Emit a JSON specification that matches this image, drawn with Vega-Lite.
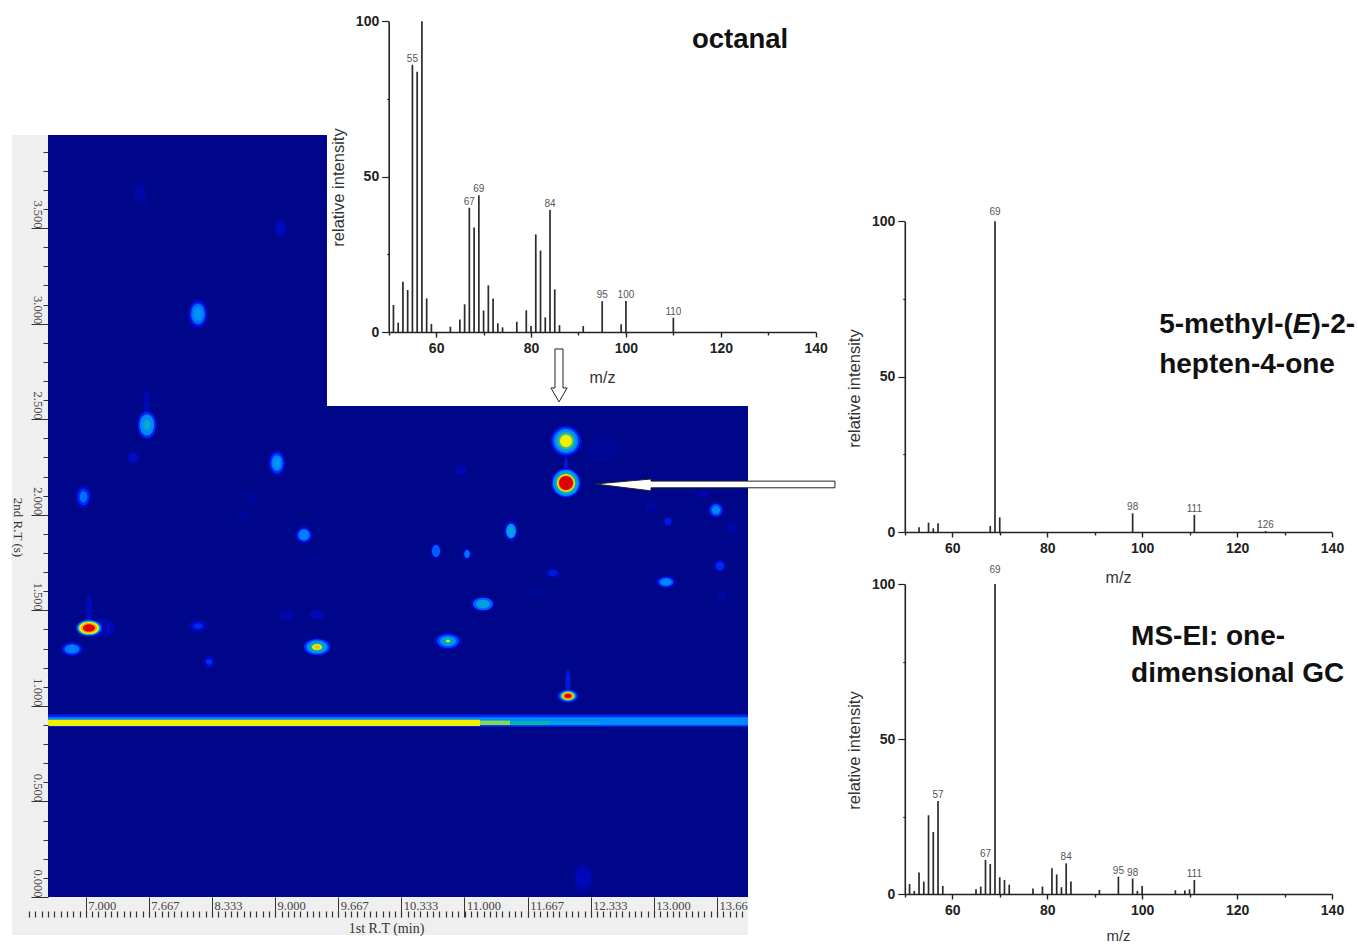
{"$schema":"https://vega.github.io/schema/vega-lite/v6.json","width":1358,"height":944,"autosize":{"type":"none"},"padding":0,"background":"white","config":{"view":{"stroke":null}},
"datasets":{
"panel":[{"rt1":6.222,"rt1e":6.602,"rt2":-0.199,"rt2e":3.987},{"rt1":6.222,"rt1e":13.994,"rt2":-0.199,"rt2e":0}],
"field":[{"rt1":6.602,"rt1e":9.548,"rt2":2.569,"rt2e":3.987,"level":0},{"rt1":6.602,"rt1e":13.994,"rt2":0,"rt2e":2.569,"level":0},
{"rt1":6.602,"rt1e":13.994,"rt2":0.891,"rt2e":0.955,"level":0.26},{"rt1":6.602,"rt1e":13.994,"rt2":0.898,"rt2e":0.940,"level":0.42},{"rt1":6.602,"rt1e":11.164,"rt2":0.895,"rt2e":0.927,"level":0.78},{"rt1":11.164,"rt1e":11.481,"rt2":0.900,"rt2e":0.923,"level":0.72},{"rt1":11.481,"rt1e":11.903,"rt2":0.900,"rt2e":0.921,"level":0.6},{"rt1":11.903,"rt1e":12.431,"rt2":0.902,"rt2e":0.920,"level":0.5}],
"spots":[
{"rt1":7.573,"rt2":3.684,"level":0.05,"form":"tall","area":100},{"rt1":7.573,"rt2":3.684,"level":0.08,"form":"tall","area":36},
{"rt1":9.062,"rt2":3.496,"level":0.07,"form":"tall","area":90},{"rt1":9.062,"rt2":3.496,"level":0.14,"form":"tall","area":36},
{"rt1":8.186,"rt2":3.05,"level":0.12,"form":"tall","area":225},{"rt1":8.186,"rt2":3.05,"level":0.25,"form":"tall","area":144},{"rt1":8.186,"rt2":3.05,"level":0.38,"form":"tall","area":100},{"rt1":8.186,"rt2":3.05,"level":0.44,"form":"tall","area":49},
{"rt1":7.647,"rt2":2.574,"level":0.1,"form":"streak","area":225},
{"rt1":7.647,"rt2":2.47,"level":0.12,"form":"tall","area":210},{"rt1":7.647,"rt2":2.47,"level":0.28,"form":"tall","area":169},{"rt1":7.647,"rt2":2.47,"level":0.42,"form":"tall","area":110},{"rt1":7.647,"rt2":2.47,"level":0.5,"form":"tall","area":36},{"rt1":7.647,"rt2":2.47,"level":0.55,"form":"tall","area":16},
{"rt1":7.5,"rt2":2.298,"level":0.08,"form":"round","area":40},{"rt1":7.5,"rt2":2.298,"level":0.16,"form":"round","area":16},
{"rt1":9.02,"rt2":2.271,"level":0.12,"form":"tall","area":160},{"rt1":9.02,"rt2":2.271,"level":0.28,"form":"tall","area":110},{"rt1":9.02,"rt2":2.271,"level":0.4,"form":"tall","area":64},{"rt1":9.02,"rt2":2.271,"level":0.45,"form":"tall","area":30},
{"rt1":6.977,"rt2":2.093,"level":0.12,"form":"tall","area":140},{"rt1":6.977,"rt2":2.093,"level":0.28,"form":"tall","area":70},{"rt1":6.977,"rt2":2.093,"level":0.38,"form":"tall","area":30},
{"rt1":9.305,"rt2":1.894,"level":0.12,"form":"round","area":80},{"rt1":9.305,"rt2":1.894,"level":0.28,"form":"round","area":45},{"rt1":9.305,"rt2":1.894,"level":0.4,"form":"round","area":30},
{"rt1":8.756,"rt2":2.088,"level":0.04,"form":"round","area":36},{"rt1":8.651,"rt2":1.999,"level":0.03,"form":"round","area":36},{"rt1":9.421,"rt2":1.774,"level":0.03,"form":"round","area":20},
{"rt1":7.035,"rt2":1.501,"level":0.11,"form":"streak","area":256},{"rt1":7.151,"rt2":1.408,"level":0.1,"form":"wide","area":220},
{"rt1":7.035,"rt2":1.408,"level":0.3,"form":"wide","area":169},{"rt1":7.035,"rt2":1.408,"level":0.42,"form":"wide","area":140},{"rt1":7.035,"rt2":1.408,"level":0.6,"form":"wide","area":121},{"rt1":7.035,"rt2":1.408,"level":0.78,"form":"wide","area":100},{"rt1":7.035,"rt2":1.408,"level":0.88,"form":"wide","area":64},{"rt1":7.035,"rt2":1.408,"level":1,"form":"wide","area":36},
{"rt1":6.855,"rt2":1.297,"level":0.13,"form":"wide","area":144},{"rt1":6.855,"rt2":1.297,"level":0.3,"form":"wide","area":81},{"rt1":6.855,"rt2":1.297,"level":0.4,"form":"wide","area":50},
{"rt1":8.186,"rt2":1.418,"level":0.08,"form":"wide","area":100},{"rt1":8.186,"rt2":1.418,"level":0.18,"form":"wide","area":36},{"rt1":8.186,"rt2":1.418,"level":0.26,"form":"wide","area":16},
{"rt1":8.302,"rt2":1.23,"level":0.12,"form":"round","area":36},{"rt1":8.302,"rt2":1.23,"level":0.28,"form":"round","area":9},
{"rt1":9.443,"rt2":1.308,"level":0.15,"form":"wide","area":196},{"rt1":9.443,"rt2":1.308,"level":0.3,"form":"wide","area":169},{"rt1":9.443,"rt2":1.308,"level":0.45,"form":"wide","area":110},{"rt1":9.443,"rt2":1.308,"level":0.6,"form":"wide","area":50},{"rt1":9.443,"rt2":1.308,"level":0.78,"form":"wide","area":25},{"rt1":9.443,"rt2":1.308,"level":0.85,"form":"wide","area":9},
{"rt1":9.126,"rt2":1.475,"level":0.09,"form":"wide","area":64},{"rt1":9.443,"rt2":1.475,"level":0.12,"form":"wide","area":49},
{"rt1":12.45,"rt2":2.346,"level":0.03,"form":"wide","area":300},
{"rt1":12.072,"rt2":2.386,"level":0.12,"form":"round","area":256},{"rt1":12.072,"rt2":2.386,"level":0.3,"form":"round","area":196},{"rt1":12.072,"rt2":2.386,"level":0.42,"form":"round","area":144},{"rt1":12.072,"rt2":2.386,"level":0.55,"form":"round","area":90},{"rt1":12.072,"rt2":2.386,"level":0.68,"form":"round","area":60},{"rt1":12.072,"rt2":2.386,"level":0.78,"form":"round","area":36},
{"rt1":12.072,"rt2":2.261,"level":0.2,"form":"streak","area":64},
{"rt1":12.072,"rt2":2.166,"level":0.15,"form":"round","area":225},{"rt1":12.072,"rt2":2.166,"level":0.3,"form":"round","area":196},{"rt1":12.072,"rt2":2.166,"level":0.42,"form":"round","area":169},{"rt1":12.072,"rt2":2.166,"level":0.6,"form":"round","area":121},{"rt1":12.072,"rt2":2.166,"level":0.78,"form":"round","area":81},{"rt1":12.072,"rt2":2.166,"level":0.88,"form":"round","area":64},{"rt1":12.072,"rt2":2.166,"level":1,"form":"round","area":49},
{"rt1":11.491,"rt2":1.915,"level":0.12,"form":"tall","area":110},{"rt1":11.491,"rt2":1.915,"level":0.3,"form":"tall","area":64},{"rt1":11.491,"rt2":1.915,"level":0.45,"form":"tall","area":49},{"rt1":11.491,"rt2":1.915,"level":0.5,"form":"tall","area":25},
{"rt1":10.699,"rt2":1.811,"level":0.15,"form":"tall","area":60},{"rt1":10.699,"rt2":1.811,"level":0.35,"form":"tall","area":36},
{"rt1":11.027,"rt2":1.795,"level":0.15,"form":"tall","area":40},{"rt1":11.027,"rt2":1.795,"level":0.38,"form":"tall","area":16},
{"rt1":11.195,"rt2":1.533,"level":0.14,"form":"wide","area":144},{"rt1":11.195,"rt2":1.533,"level":0.35,"form":"wide","area":100},{"rt1":11.195,"rt2":1.533,"level":0.5,"form":"wide","area":50},
{"rt1":10.826,"rt2":1.339,"level":0.15,"form":"wide","area":196},{"rt1":10.826,"rt2":1.339,"level":0.32,"form":"wide","area":121},{"rt1":10.826,"rt2":1.339,"level":0.48,"form":"wide","area":64},{"rt1":10.826,"rt2":1.339,"level":0.62,"form":"wide","area":16},{"rt1":10.826,"rt2":1.339,"level":0.76,"form":"wide","area":4},
{"rt1":11.935,"rt2":1.695,"level":0.09,"form":"wide","area":60},{"rt1":11.935,"rt2":1.695,"level":0.2,"form":"wide","area":25},
{"rt1":13.128,"rt2":1.648,"level":0.14,"form":"wide","area":100},{"rt1":13.128,"rt2":1.648,"level":0.33,"form":"wide","area":56},{"rt1":13.128,"rt2":1.648,"level":0.42,"form":"wide","area":30},
{"rt1":13.656,"rt2":2.025,"level":0.13,"form":"round","area":64},{"rt1":13.656,"rt2":2.025,"level":0.32,"form":"round","area":36},{"rt1":13.656,"rt2":2.025,"level":0.42,"form":"round","area":16},
{"rt1":13.149,"rt2":1.963,"level":0.12,"form":"round","area":25},{"rt1":13.149,"rt2":1.963,"level":0.2,"form":"round","area":12},
{"rt1":13.698,"rt2":1.732,"level":0.13,"form":"round","area":36},{"rt1":13.698,"rt2":1.732,"level":0.26,"form":"round","area":16},
{"rt1":13.519,"rt2":2.109,"level":0.09,"form":"wide","area":36},{"rt1":10.963,"rt2":2.234,"level":0.09,"form":"round","area":30},{"rt1":12.97,"rt2":2.041,"level":0.06,"form":"round","area":25},{"rt1":13.825,"rt2":1.931,"level":0.06,"form":"round","area":30},{"rt1":11.766,"rt2":1.596,"level":0.05,"form":"wide","area":25},{"rt1":13.719,"rt2":1.575,"level":0.05,"form":"round","area":25},
{"rt1":12.093,"rt2":1.125,"level":0.2,"form":"streak","area":144},
{"rt1":12.093,"rt2":1.052,"level":0.3,"form":"wide","area":100},{"rt1":12.093,"rt2":1.052,"level":0.42,"form":"wide","area":64},{"rt1":12.093,"rt2":1.052,"level":0.68,"form":"wide","area":50},{"rt1":12.093,"rt2":1.052,"level":0.8,"form":"wide","area":36},{"rt1":12.093,"rt2":1.052,"level":0.9,"form":"wide","area":25},{"rt1":12.093,"rt2":1.052,"level":1,"form":"wide","area":12},
{"rt1":12.251,"rt2":0.099,"level":0.05,"form":"tall","area":220},{"rt1":12.251,"rt2":0.099,"level":0.12,"form":"tall","area":100}],
"arrowH":[{"rt1":12.378,"rt2":2.161,"rt2e":2.161},{"rt1":12.97,"rt2":2.125,"rt2e":2.187},{"rt1":12.97,"rt2":2.141,"rt2e":2.176},{"rt1":14.912,"rt2":2.141,"rt2e":2.176}],
"arrowV":[{"mz":85.05,"mz2":86.74,"intensity":-5.47},{"mz":85.05,"mz2":86.74,"intensity":-18},{"mz":84.2,"mz2":87.6,"intensity":-18},{"mz":85.9,"mz2":85.9,"intensity":-22.5}],
"octanal":[{"mz":51,"intensity":8.7},{"mz":52,"intensity":3},{"mz":53,"intensity":16.2},{"mz":54,"intensity":13.5},{"mz":55,"intensity":86,"label":"55"},{"mz":56,"intensity":83.8},{"mz":57,"intensity":100},{"mz":58,"intensity":10.8},{"mz":59,"intensity":2.6},{"mz":63,"intensity":1.7},{"mz":65,"intensity":4},{"mz":66,"intensity":8.9},{"mz":67,"intensity":40,"label":"67"},{"mz":68,"intensity":33.6},{"mz":69,"intensity":44,"label":"69"},{"mz":70,"intensity":6.9},{"mz":71,"intensity":15},{"mz":72,"intensity":10.8},{"mz":73,"intensity":2.8},{"mz":74,"intensity":1.5},{"mz":77,"intensity":3.3},{"mz":79,"intensity":7},{"mz":80,"intensity":1.9},{"mz":81,"intensity":31.4},{"mz":82,"intensity":26.2},{"mz":83,"intensity":4.7},{"mz":84,"intensity":39.3,"label":"84"},{"mz":85,"intensity":13.7},{"mz":86,"intensity":2.2},{"mz":91,"intensity":1.9},{"mz":95,"intensity":9.9,"label":"95"},{"mz":99,"intensity":2.5},{"mz":100,"intensity":10,"label":"100"},{"mz":110,"intensity":4.6,"label":"110"}],
"heptenone":[{"mz":53,"intensity":1.5},{"mz":55,"intensity":3},{"mz":56,"intensity":1.2},{"mz":57,"intensity":2.8},{"mz":68,"intensity":1.9},{"mz":69,"intensity":100,"label":"69"},{"mz":70,"intensity":4.7},{"mz":98,"intensity":6,"label":"98"},{"mz":111,"intensity":5.5,"label":"111"},{"mz":126,"intensity":0.3,"label":"126"}],
"ei":[{"mz":51,"intensity":3.2},{"mz":52,"intensity":1},{"mz":53,"intensity":6.9},{"mz":54,"intensity":4},{"mz":55,"intensity":25.4},{"mz":56,"intensity":20},{"mz":57,"intensity":30,"label":"57"},{"mz":58,"intensity":2.6},{"mz":65,"intensity":1.5},{"mz":66,"intensity":2.4},{"mz":67,"intensity":11,"label":"67"},{"mz":68,"intensity":9.7},{"mz":69,"intensity":100,"label":"69"},{"mz":70,"intensity":5.4},{"mz":71,"intensity":4.5},{"mz":72,"intensity":3},{"mz":77,"intensity":1.8},{"mz":79,"intensity":2.4},{"mz":81,"intensity":8.3},{"mz":82,"intensity":6.3},{"mz":83,"intensity":2.2},{"mz":84,"intensity":9.9,"label":"84"},{"mz":85,"intensity":4},{"mz":91,"intensity":1.3},{"mz":95,"intensity":5.6,"label":"95"},{"mz":98,"intensity":5,"label":"98"},{"mz":99,"intensity":1},{"mz":100,"intensity":2.6},{"mz":107,"intensity":1.2},{"mz":109,"intensity":1.1},{"mz":110,"intensity":1.5},{"mz":111,"intensity":4.5,"label":"111"}]
},
"layer":[
{"encoding":{
"x":{"field":"rt1","type":"quantitative","scale":{"domain":[6.602,13.994],"range":[48,748],"nice":false,"zero":false},
"axis":{"orient":"bottom","offset":-47,"title":"1st R.T (min)","titleFont":"Liberation Serif","titleFontWeight":"normal","titleFontSize":14,"titleColor":"#333","titleX":386,"titleY":31,"titleBaseline":"middle","titleAlign":"center","values":[7,7.667,8.333,9,9.667,10.333,11,11.667,12.333,13,13.667],"labelExpr":"datum.value>13.6?'13.66':format(datum.value,'.3f')","labelFont":"Liberation Serif","labelFontSize":12.5,"labelColor":"#444","labelAlign":"left","labelBaseline":"middle","labelOffset":2,"labelPadding":-12,"labelOverlap":false,"labelFlush":false,"tickSize":20,"tickColor":"#333","tickWidth":1,"domain":false,"grid":false,"zindex":1}},
"y":{"field":"rt2","type":"quantitative","scale":{"domain":[0,3.987],"range":[897,135],"nice":false,"zero":false},
"axis":{"orient":"left","offset":-48,"title":"2nd R.T (s)","titleFont":"Liberation Serif","titleFontWeight":"normal","titleFontSize":13,"titleColor":"#333","titleAngle":90,"titleX":-31,"titleY":527,"titleBaseline":"middle","titleAlign":"center","values":[0,0.1,0.2,0.3,0.4,0.5,0.6,0.7,0.8,0.9,1,1.1,1.2,1.3,1.4,1.5,1.6,1.7,1.8,1.9,2,2.1,2.2,2.3,2.4,2.5,2.6,2.7,2.8,2.9,3,3.1,3.2,3.3,3.4,3.5,3.6,3.7,3.8,3.9],"labelExpr":"round(datum.value*10)%5===0?format(datum.value,'.3f'):''","labelFont":"Liberation Serif","labelFontSize":12.5,"labelColor":"#444","labelAngle":90,"labelAlign":"right","labelBaseline":"middle","labelPadding":-6,"labelOverlap":false,"labelFlush":false,"tickSize":{"condition":{"test":"round(datum.value*10)%5===0","value":17},"value":5},"tickColor":"#333","tickWidth":1,"domain":false,"grid":false,"zindex":1}}},
"layer":[
{"data":{"name":"panel"},"mark":{"type":"rect","fill":"#efefef"},"encoding":{"x2":{"field":"rt1e"},"y2":{"field":"rt2e"}}},
{"data":{"name":"field"},"mark":{"type":"rect"},"encoding":{"x2":{"field":"rt1e"},"y2":{"field":"rt2e"},"color":{"field":"level","type":"quantitative","legend":null,"scale":{"domain":[0,0.15,0.3,0.42,0.55,0.68,0.78,0.88,1],"range":["#00068a","#0008c8","#0030ff","#0088ff","#10a8c8","#50c070","#f0f000","#ffa000","#e00000"]}}}},
{"data":{"name":"spots"},"mark":{"type":"point","filled":true,"opacity":1,"strokeWidth":0},"encoding":{"color":{"field":"level","type":"quantitative","legend":null,"scale":{"domain":[0,0.15,0.3,0.42,0.55,0.68,0.78,0.88,1],"range":["#00068a","#0008c8","#0030ff","#0088ff","#10a8c8","#50c070","#f0f000","#ffa000","#e00000"]}},"size":{"field":"area","type":"quantitative","legend":null,"scale":{"domain":[0,1000],"range":[0,1000]}},"shape":{"field":"form","type":"nominal","legend":null,"scale":{"domain":["round","wide","tall","streak"],"range":["M-2,0A2,2,0,1,1,2,0A2,2,0,1,1,-2,0Z","M-2,0A2,1.24,0,1,1,2,0A2,1.24,0,1,1,-2,0Z","M-1.36,0A1.36,2,0,1,1,1.36,0A1.36,2,0,1,1,-1.36,0Z","M-0.44,0A0.44,2,0,1,1,0.44,0A0.44,2,0,1,1,-0.44,0Z"]}}}},
{"data":{"name":"arrowH"},"mark":{"type":"area","orient":"vertical","fill":"white","stroke":"#222","strokeWidth":1},"encoding":{"y2":{"field":"rt2e"}}}
]},
{"data":{"values":[{"tick_index":0}]},"mark":{"type":"point","opacity":0},"encoding":{"x":{"field":"tick_index","type":"quantitative","scale":{"domain":[-9,104.9],"range":[29,748],"nice":false,"zero":false},"axis":{"orient":"bottom","offset":-33,"title":null,"labels":false,"domain":false,"grid":false,"tickCount":114,"tickSize":6,"tickColor":"#333","tickWidth":1.2,"zindex":1}}}},
{"encoding":{
"x":{"field":"mz","type":"quantitative","scale":{"domain":[50,140],"range":[388.7,815.7],"nice":false,"zero":false},"axis":{"orient":"bottom","offset":-612,"title":"m/z","titleFont":"Liberation Sans","titleFontWeight":"normal","titleFontSize":16,"titleColor":"#333","titleX":602,"titleY":45,"titleBaseline":"middle","titleAlign":"center","values":[50,60,70,80,90,100,110,120,130,140],"labelExpr":"datum.value>50&&datum.value%20===0?datum.label:''","labelFont":"Liberation Sans","labelFontWeight":"bold","labelFontSize":14,"labelColor":"#222","labelPadding":4,"labelOverlap":false,"labelFlush":false,"tickSize":{"condition":{"test":"datum.value%20===0","value":5},"value":3},"tickColor":"#222","tickWidth":1.4,"domainColor":"#222","domainWidth":1.6,"grid":false,"zindex":1}},
"y":{"field":"intensity","type":"quantitative","scale":{"domain":[0,100],"range":[332,21.3],"nice":false,"zero":false},"axis":{"orient":"left","offset":-388.7,"title":"relative intensity","titleFont":"Liberation Sans","titleFontWeight":"normal","titleFontSize":16.5,"titleColor":"#333","titleAngle":-90,"titleX":-50.7,"titleY":187,"titleBaseline":"middle","titleAlign":"center","values":[0,25,50,75,100],"labelExpr":"datum.value%50===0?datum.label:''","labelFont":"Liberation Sans","labelFontWeight":"bold","labelFontSize":14,"labelColor":"#222","labelPadding":3,"labelOverlap":false,"labelFlush":false,"tickSize":{"condition":{"test":"datum.value%50===0","value":7},"value":2},"tickColor":"#222","tickWidth":1.2,"domainColor":"#222","domainWidth":1.6,"grid":false,"zindex":1}}},
"layer":[
{"data":{"name":"octanal"},"mark":{"type":"rule","stroke":"#2a2a2a","strokeWidth":1.7},"encoding":{"y2":{"datum":0}}},
{"data":{"name":"octanal"},"transform":[{"filter":"datum.label"}],"mark":{"type":"text","dy":-6,"font":"Liberation Sans","fontSize":10,"fill":"#555"},"encoding":{"text":{"field":"label"}}},
{"data":{"values":[{"mz":124.05,"intensity":94.6,"name":"octanal"}]},"mark":{"type":"text","dy":2,"font":"Liberation Sans","fontWeight":"bold","fontSize":27.5,"fill":"#111"},"encoding":{"text":{"field":"name"}}},
{"data":{"name":"arrowV"},"mark":{"type":"area","orient":"horizontal","fill":"white","stroke":"#222","strokeWidth":1},"encoding":{"x2":{"field":"mz2"}}}
]},
{"encoding":{
"x":{"field":"mz","type":"quantitative","scale":{"domain":[50,140],"range":[904.8,1332],"nice":false,"zero":false},"axis":{"orient":"bottom","offset":-412,"title":"m/z","titleFont":"Liberation Sans","titleFontWeight":"normal","titleFontSize":16,"titleColor":"#333","titleX":1118,"titleY":45,"titleBaseline":"middle","titleAlign":"center","values":[50,60,70,80,90,100,110,120,130,140],"labelExpr":"datum.value>50&&datum.value%20===0?datum.label:''","labelFont":"Liberation Sans","labelFontWeight":"bold","labelFontSize":14,"labelColor":"#222","labelPadding":4,"labelOverlap":false,"labelFlush":false,"tickSize":{"condition":{"test":"datum.value%20===0","value":5},"value":3},"tickColor":"#222","tickWidth":1.4,"domainColor":"#222","domainWidth":1.6,"grid":false,"zindex":1}},
"y":{"field":"intensity","type":"quantitative","scale":{"domain":[0,100],"range":[532,221.3],"nice":false,"zero":false},"axis":{"orient":"left","offset":-904.8,"title":"relative intensity","titleFont":"Liberation Sans","titleFontWeight":"normal","titleFontSize":16.5,"titleColor":"#333","titleAngle":-90,"titleX":-50.8,"titleY":388,"titleBaseline":"middle","titleAlign":"center","values":[0,25,50,75,100],"labelExpr":"datum.value%50===0?datum.label:''","labelFont":"Liberation Sans","labelFontWeight":"bold","labelFontSize":14,"labelColor":"#222","labelPadding":3,"labelOverlap":false,"labelFlush":false,"tickSize":{"condition":{"test":"datum.value%50===0","value":7},"value":2},"tickColor":"#222","tickWidth":1.2,"domainColor":"#222","domainWidth":1.6,"grid":false,"zindex":1}}},
"layer":[
{"data":{"name":"heptenone"},"mark":{"type":"rule","stroke":"#2a2a2a","strokeWidth":1.7},"encoding":{"y2":{"datum":0}}},
{"data":{"name":"heptenone"},"transform":[{"filter":"datum.label && datum.mz!==69"}],"mark":{"type":"text","dy":-6,"font":"Liberation Sans","fontSize":10,"fill":"#555"},"encoding":{"text":{"field":"label"}}},
{"data":{"name":"heptenone"},"transform":[{"filter":"datum.mz===69"}],"mark":{"type":"text","dy":-9,"font":"Liberation Sans","fontSize":10,"fill":"#555"},"encoding":{"text":{"field":"label"}}},
{"data":{"values":[{"mz":103.58,"intensity":67.3,"name":"5-methyl-("},{"mz":135.68,"intensity":67.3,"name":")-2-"},{"mz":103.58,"intensity":54.4,"name":"hepten-4-one"}]},"mark":{"type":"text","dy":2,"align":"left","font":"Liberation Sans","fontWeight":"bold","fontSize":28,"fill":"#111"},"encoding":{"text":{"field":"name"}}},
{"data":{"values":[{"mz":131.75,"intensity":67.3,"name":"E"}]},"mark":{"type":"text","dy":2,"align":"left","font":"Liberation Sans","fontWeight":"bold","fontStyle":"italic","fontSize":28,"fill":"#111"},"encoding":{"text":{"field":"name"}}}
]},
{"encoding":{
"x":{"field":"mz","type":"quantitative","scale":{"domain":[50,140],"range":[904.8,1332],"nice":false,"zero":false},"axis":{"orient":"bottom","offset":-50,"title":"m/z","titleFont":"Liberation Sans","titleFontWeight":"normal","titleFontSize":15,"titleColor":"#333","titleX":1118,"titleY":41,"titleBaseline":"middle","titleAlign":"center","values":[50,60,70,80,90,100,110,120,130,140],"labelExpr":"datum.value>50&&datum.value%20===0?datum.label:''","labelFont":"Liberation Sans","labelFontWeight":"bold","labelFontSize":14,"labelColor":"#222","labelPadding":4,"labelOverlap":false,"labelFlush":false,"tickSize":{"condition":{"test":"datum.value%20===0","value":5},"value":3},"tickColor":"#222","tickWidth":1.4,"domainColor":"#222","domainWidth":1.6,"grid":false,"zindex":1}},
"y":{"field":"intensity","type":"quantitative","scale":{"domain":[0,100],"range":[894,584],"nice":false,"zero":false},"axis":{"orient":"left","offset":-904.8,"title":"relative intensity","titleFont":"Liberation Sans","titleFontWeight":"normal","titleFontSize":16.5,"titleColor":"#333","titleAngle":-90,"titleX":-50.8,"titleY":750,"titleBaseline":"middle","titleAlign":"center","values":[0,25,50,75,100],"labelExpr":"datum.value%50===0?datum.label:''","labelFont":"Liberation Sans","labelFontWeight":"bold","labelFontSize":14,"labelColor":"#222","labelPadding":3,"labelOverlap":false,"labelFlush":false,"tickSize":{"condition":{"test":"datum.value%50===0","value":7},"value":2},"tickColor":"#222","tickWidth":1.2,"domainColor":"#222","domainWidth":1.6,"grid":false,"zindex":1}}},
"layer":[
{"data":{"name":"ei"},"mark":{"type":"rule","stroke":"#2a2a2a","strokeWidth":1.7},"encoding":{"y2":{"datum":0}}},
{"data":{"name":"ei"},"transform":[{"filter":"datum.label && datum.mz!==69"}],"mark":{"type":"text","dy":-6,"font":"Liberation Sans","fontSize":10,"fill":"#555"},"encoding":{"text":{"field":"label"}}},
{"data":{"name":"ei"},"transform":[{"filter":"datum.mz===69"}],"mark":{"type":"text","dy":-14,"font":"Liberation Sans","fontSize":10,"fill":"#555"},"encoding":{"text":{"field":"label"}}},
{"data":{"values":[{"mz":97.68,"intensity":83.5,"name":"MS-EI: one-"},{"mz":97.68,"intensity":71.6,"name":"dimensional GC"}]},"mark":{"type":"text","dy":1.5,"align":"left","font":"Liberation Sans","fontWeight":"bold","fontSize":28,"fill":"#111"},"encoding":{"text":{"field":"name"}}}
]}
],
"resolve":{"scale":{"x":"independent","y":"independent"},"axis":{"x":"independent","y":"independent"}}}
